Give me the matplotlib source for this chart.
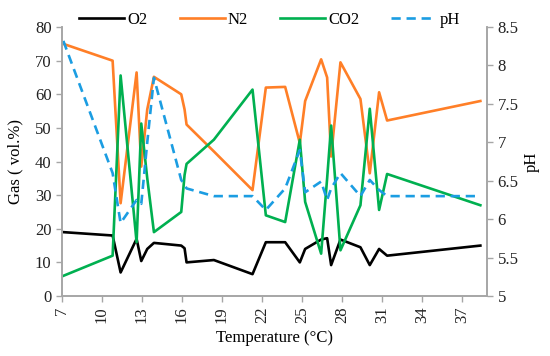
import numpy as np
import matplotlib.pyplot as plt
from matplotlib.ticker import FuncFormatter

# temperature (degC) shared by all series
temp = [7.1, 10.8, 11.4, 12.6, 12.95, 13.4, 13.9, 15.95, 16.2, 16.35, 18.4, 21.3,
        22.3, 23.75, 24.85, 25.25, 26.45, 26.9, 27.2, 27.9, 29.4, 30.1, 30.8, 31.4, 38.4]

o2 = [19, 18, 7, 17, 10.4, 14, 15.8, 15, 14.2, 10, 10.7, 6.5,
      16, 16, 10, 14, 16.8, 17.2, 9.2, 16.8, 14.5, 9.2, 14, 12, 15]
n2 = [75, 70, 27.6, 66.5, 38.5, 55.5, 65.2, 60, 55.5, 51, 43, 31.5,
      62, 62.2, 45.5, 58, 70.4, 65, 41.5, 69.5, 58.6, 36.5, 60.6, 52.2, 58]
co2 = [6, 12, 65.6, 16, 51.3, 35, 19, 25, 36, 39.3, 46.5, 61.4,
       24, 22, 46.5, 28, 12.6, 35, 50.7, 13.6, 27, 55.7, 25.6, 36.3, 27]
ph = [8.32, 6.6, 5.95, 6.25, 6.2, 7.0, 7.84, 6.51, 6.45, 6.4, 6.3, 6.3,
      6.12, 6.4, 6.9, 6.35, 6.49, 6.25, 6.4, 6.6, 6.3, 6.51, 6.38, 6.3, 6.3]

xticks = list(range(7, 38, 3))

plt.rcParams['font.family'] = ['Liberation Serif', 'DejaVu Serif']
fs = 12

grey = '#a6a6a6'

fig = plt.figure(figsize=(5.5, 3.56), dpi=100)
ax = fig.add_axes([0.1127, 0.1685, 0.7728, 0.7555])
ax2 = ax.twinx()

l1, = ax.plot(temp, o2, color='black', lw=1.9, label='O2')
l2, = ax.plot(temp, n2, color='#ff7f27', lw=1.9, label='N2')
l3, = ax.plot(temp, co2, color='#00b050', lw=1.9, label='CO2')
l4, = ax2.plot(temp, ph, color='#1b9de2', lw=1.9, ls=(0, (3.5, 2.2)), label='pH')

ax.set_xlim(7, 38.9)
ax.set_ylim(0, 80)
ax2.set_ylim(5, 8.5)
ax.set_xticks(xticks)
ax.set_yticks(range(0, 81, 10))
ax2.set_yticks(np.arange(5, 8.51, 0.5))
ax2.yaxis.set_major_formatter(FuncFormatter(lambda v, p: '%g' % v))
ax.tick_params(axis='x', rotation=90)

for a in (ax, ax2):
    a.spines['top'].set_visible(False)
    for s in ('left', 'right', 'bottom'):
        a.spines[s].set_color(grey)
        a.spines[s].set_linewidth(1.2)
    a.tick_params(colors=grey, labelcolor='#222222', length=4, width=1, labelsize=fs)

ax.set_xlabel('Temperature (°C)', fontsize=fs, labelpad=5)
ax.set_ylabel('Gas ( vol.%)', fontsize=fs, labelpad=8)
ax2.set_ylabel('pH', fontsize=fs, labelpad=4)

fig.legend(handles=[l1, l2, l3, l4], loc='center', bbox_to_anchor=(0.49, 0.945),
           ncol=4, frameon=False, fontsize=fs, handlelength=2.7, columnspacing=1.9,
           handletextpad=0.2)

fig.savefig('out.png', dpi=100)
